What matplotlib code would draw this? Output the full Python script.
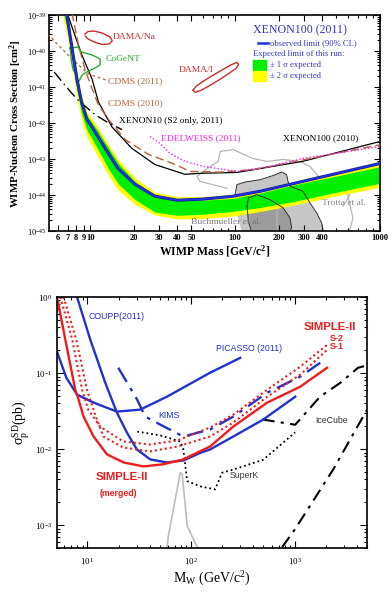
import numpy as np
import matplotlib.pyplot as plt
from matplotlib.patches import Rectangle
from matplotlib.ticker import NullFormatter

plt.rcParams['font.family'] = ['Liberation Serif', 'DejaVu Serif']
plt.rcParams['mathtext.fontset'] = 'custom'
plt.rcParams['mathtext.rm'] = 'Liberation Serif'
plt.rcParams['mathtext.it'] = 'Liberation Serif:italic'
plt.rcParams['mathtext.bf'] = 'Liberation Serif:bold'


# ---------------- top panel: SI WIMP-nucleon limits (log10 of cm^2) ----------------
xe11_mass = [6.5, 6.9, 8.1, 8.7, 9.5, 11.1, 13.5, 15.6, 20.4, 28, 40, 60, 97, 150, 251, 500, 1000]
xe11_log = [-38.6, -39.0, -40.77, -41.40, -41.89, -42.32, -42.87, -43.26, -43.70, -44.03,
            -44.14, -44.11, -44.03, -43.89, -43.68, -43.40, -43.12]
green_hi = [-38.5, -38.9, -40.67, -41.30, -41.79, -42.17, -42.72, -43.11, -43.62, -44.00,
            -44.14, -44.14, -44.09, -43.94, -43.72, -43.47, -43.21]
green_lo = [-38.9, -39.3, -41.07, -41.70, -42.19, -42.67, -43.29, -43.68, -44.12, -44.47,
            -44.56, -44.53, -44.45, -44.34, -44.18, -43.92, -43.67]
yellow_hi = [-38.4, -38.8, -40.57, -41.20, -41.69, -42.07, -42.62, -43.01, -43.52, -43.92,
             -44.04, -44.04, -43.98, -43.84, -43.63, -43.35, -43.07]
yellow_lo = [-39.1, -39.5, -41.27, -41.90, -42.39, -42.87, -43.47, -43.86, -44.25, -44.55,
             -44.66, -44.65, -44.58, -44.45, -44.28, -44.02, -43.78]

xe10_mass = [6.7, 6.9, 8.77, 10.3, 11.4, 14.1, 19.4, 28, 45, 60, 103, 294, 1000]
xe10_log = [-38.7, -38.92, -40.11, -40.77, -41.41, -42.10, -42.70, -43.15, -43.42, -43.39,
            -43.37, -43.06, -42.51]

cdms10_mass = [7.2, 7.48, 8.3, 9.24, 10.3, 11.4, 13.4, 17.5, 25.3, 36.6, 49, 79, 134, 296, 1000]
cdms10_log = [-38.6, -38.92, -39.83, -40.52, -41.04, -41.49, -41.90, -42.46, -42.87, -43.11,
              -43.34, -43.36, -43.29, -43.02, -42.60]

cdms11_mass = [5.1, 6.21, 7.5, 9.7, 13.0]
cdms11_log = [-39.53, -39.885, -40.22, -40.63, -40.81]

xe10s2_mass = [5.65, 6.4, 7.5, 8.5, 10.8, 13.3, 16.6]
xe10s2_log = [-40.58, -40.85, -41.18, -41.41, -41.76, -41.99, -42.18]

edw_mass = [25.9, 30.5, 35.6, 45, 60, 103, 174, 294, 1000]
edw_log = [-42.37, -42.57, -42.84, -43.06, -43.20, -43.34, -43.20, -42.98, -42.65]

# closed contours (mass, sigma)
damana_mass = [9.24, 9.68, 10.66, 12.1, 13.74, 14.19, 13.5, 12.1, 10.66, 9.68, 9.24]
damana_sig = [2.99e-40, 3.50e-40, 3.61e-40, 3.18e-40, 2.47e-40, 1.91e-40, 1.58e-40,
              1.53e-40, 1.79e-40, 2.17e-40, 2.62e-40]

damai_mass = [51.3, 53.8, 60.2, 69.4, 81.4, 93.8, 103.2, 105.7, 101.6, 90.9, 78.8, 67.2, 58.3, 53.0, 51.3]
damai_sig = [8.18e-42, 1.05e-41, 1.45e-41, 2.06e-41, 3.01e-41, 4.15e-41, 4.86e-41, 4.28e-41,
             3.32e-41, 2.42e-41, 1.65e-41, 1.12e-41, 8.18e-42, 7.19e-42, 8.18e-42]

cogent_mass = [7.28, 8.26, 8.67, 10.3, 11.72, 11.72, 10.83, 9.53, 8.81, 8.40, 8.0, 8.13, 7.63, 7.40, 7.28]
cogent_sig = [1.22e-40, 1.30e-40, 9.48e-41, 7.84e-41, 6.08e-41, 4.15e-41, 3.43e-41, 2.66e-41,
              2.19e-41, 1.50e-41, 1.41e-41, 2.19e-41, 3.01e-41, 5.70e-41, 1.22e-40]

buch_out_mass = [100, 103, 117, 149, 184, 210, 227, 232, 240, 294, 329, 366, 396, 406, 431, 114, 108, 100]
buch_out_sig = [1.03e-44, 1.96e-44, 2.31e-44, 2.69e-44, 3.54e-44, 4.37e-44, 3.70e-44, 2.4e-44,
                1.76e-44, 1.28e-44, 6.07e-45, 3.21e-45, 1.70e-45, 1e-45, 5.3e-46, 5.3e-46,
                1.53e-45, 4.42e-45]
buch_in_mass = [121, 123.5, 141, 174, 215, 239, 246, 228, 133, 123.5, 121]
buch_in_sig = [4.92e-45, 8.34e-45, 1.03e-44, 7.53e-45, 4.42e-45, 2.34e-45, 1.24e-45, 7e-46,
               7e-46, 1.89e-45, 4.92e-45]

trotta_out_mass = [88, 57.4, 54.7, 64.1, 76.4, 78.9, 96.9, 133, 166, 214, 281, 329, 386, 592, 651, 600]
trotta_out_sig = [1.55e-44, 2.41e-44, 3.32e-44, 5.52e-44, 8.63e-44, 1.63e-43, 1.85e-43, 1.04e-43,
                  8.63e-44, 9.8e-44, 8.63e-44, 6.28e-44, 2.92e-44, 1.28e-44, 2.29e-45, 7e-46]
trotta_in_mass = [195, 195, 221, 281, 452, 592, 621, 556]
trotta_in_sig = [7e-46, 3.57e-45, 9.29e-45, 1.28e-44, 2.41e-44, 2.13e-44, 1.05e-44, 4.92e-45]

top_xticks = [6, 7, 8, 9, 10, 20, 30, 40, 50, 100, 200, 300, 400, 1000]
top_xlabels = ['6', '7', '8', '9', '10', '20', '30', '40', '50', '100', '200', '300', '400', '1000']
top_xminor = [60, 70, 80, 90, 500, 600, 700, 800, 900]


# ---------------- bottom panel: SD WIMP-proton limits (log10 of pb) ----------------
simple_mass = [5.1, 6.14, 7.65, 8.24, 9.2, 11.5, 15.5, 22.4, 34.9, 54, 84, 153, 256, 544, 1133, 2060]
simple_log = [0, -0.564, -1.219, -1.35, -1.573, -1.835, -2.07, -2.176, -2.228, -2.20, -2.136,
              -1.966, -1.704, -1.389, -1.18, -0.93]

s2_mass = [5.5, 7.16, 8.9, 10.2, 13.3, 22.2, 40.5, 73.8, 153, 256, 545, 1133, 2060]
s2_log = [0, -0.564, -1.219, -1.481, -1.704, -1.90, -1.94, -1.887, -1.717, -1.547, -1.219, -0.917, -0.629]

s1_mass = [5.9, 7.83, 9.93, 11.9, 14.3, 22.2, 40.5, 73.8, 153, 256, 545, 1133, 2060]
s1_log = [0, -0.564, -1.219, -1.547, -1.835, -1.979, -2.031, -1.966, -1.835, -1.651, -1.311, -1.022, -0.695]

coupp_mass = [7.96, 10.7, 14.9, 19.3, 24.1, 30.1, 40.5, 58.7, 84.9, 123, 153, 256, 498, 1014]
coupp_log = [0, -0.564, -1.127, -1.52, -1.783, -2.005, -2.136, -2.176, -2.149, -2.05, -2.005,
             -1.835, -1.612, -1.311]

picasso_mass = [5.1, 6.27, 7.96, 11.5, 19.3, 32.4, 58.7, 153, 299]
picasso_log = [-0.72, -1.06, -1.284, -1.389, -1.507, -1.481, -1.311, -0.996, -0.80]

kims_mass = [19.9, 30.3, 36.2, 50.6, 84.4, 153, 256, 545, 1133, 1766]
kims_log = [-0.93, -1.35, -1.573, -1.678, -1.835, -1.743, -1.573, -1.258, -1.048, -0.865]

superk_mass = [30.3, 50.6, 78.9, 84.4, 92, 123, 171, 200, 256, 498, 1014]
superk_log = [-1.77, -1.82, -1.90, -2.0, -2.42, -2.49, -2.53, -2.31, -2.27, -2.14, -1.78]

icecube_mass = [487, 1014, 1766, 2755, 4105, 5010]
icecube_log = [-1.61, -1.68, -1.31, -1.13, -0.93, -0.90]

icecube2_mass = [759, 1014, 2356, 5010]
icecube2_log = [-3.29, -3.05, -2.27, -1.48]

gray_mass = [59, 60.4, 78.9, 82.4, 92, 115]
gray_log = [-3.29, -3.15, -2.31, -2.33, -3.01, -3.29]


def lg(v):
    return 10 ** np.array(v)


fig = plt.figure(figsize=(3.91, 5.92), dpi=100)

# ================= top panel =================
ax = fig.add_axes([0.1253, 0.6095, 0.8465, 0.3650])
ax.set_xscale('log')
ax.set_yscale('log')

ax.fill(buch_out_mass, buch_out_sig, color='#c6c6c6', lw=0, zorder=1)
ax.fill(buch_in_mass, buch_in_sig, color='#9c9c9c', lw=0, zorder=1)
ax.plot(trotta_out_mass, trotta_out_sig, color='#b5b5b5', lw=0.9, zorder=1)
ax.plot(trotta_in_mass, trotta_in_sig, color='#b5b5b5', lw=0.9, zorder=1)

ax.fill_between(xe11_mass, lg(yellow_lo), lg(yellow_hi), color='#ffff00', lw=0, zorder=2)
ax.fill_between(xe11_mass, lg(green_lo), lg(green_hi), color='#00ee00', lw=0, zorder=2)

ax.plot(buch_out_mass[:-3], buch_out_sig[:-3], color='#333333', lw=0.7, zorder=3)
ax.plot(buch_in_mass, buch_in_sig, color='#333333', lw=0.7, zorder=3)

ax.plot(xe10_mass, lg(xe10_log), color='black', lw=0.9, zorder=4)
ax.plot(cdms10_mass, lg(cdms10_log), color='#b5633a', lw=1.0, dashes=(6, 3), zorder=4)
ax.plot(cdms11_mass, lg(cdms11_log), color='#c0703a', lw=1.0, dashes=(2, 2), zorder=4)
ax.plot(xe10s2_mass, lg(xe10s2_log), color='black', lw=1.0, dashes=(8, 3, 1, 3), zorder=4)
ax.plot(edw_mass, lg(edw_log), color='#ee22ee', lw=1.0, dashes=(1, 1.5), zorder=4)
ax.plot(xe11_mass, lg(xe11_log), color='#101c9a', lw=2.2, zorder=5)
ax.plot(xe11_mass, lg(xe11_log), color='#1f30e0', lw=1.3, zorder=5)

ax.plot(damana_mass, damana_sig, color='#cc2a2a', lw=1.0, zorder=4)
ax.plot(damai_mass, damai_sig, color='#cc2a2a', lw=1.0, zorder=4)
ax.plot(cogent_mass, cogent_sig, color='#2aaa2a', lw=1.0, zorder=4)

ax.set_xlim(5.2, 1000)
ax.set_ylim(1e-45, 1e-39)
ax.set_xticks(top_xticks)
ax.set_xticklabels(top_xlabels, fontweight='bold')
ax.set_xticks(top_xminor, minor=True)
ax.xaxis.set_minor_formatter(NullFormatter())
ax.tick_params(which='both', direction='in', top=True, right=True, labelsize=6.0, width=0.8)
ax.tick_params(which='major', length=4)
ax.tick_params(which='minor', length=2.5)
ax.tick_params(axis='x', pad=2)
ax.tick_params(axis='y', pad=2)
for s in ax.spines.values():
    s.set_linewidth(1.2)
ax.set_xlabel('WIMP Mass [GeV/c$^{\\mathbf{2}}$]', fontsize=8.5, fontweight='bold', labelpad=1)
ax.set_ylabel('WIMP-Nucleon Cross Section [cm$^{\\mathbf{2}}$]', fontsize=7.8, fontweight='bold', labelpad=2)

lab = dict(transform=ax.transAxes, fontsize=6.8, va='center', ha='left', zorder=6)
ax.text(0.193, 0.899, 'DAMA/Na', color='#cc2a2a', **lab)
ax.text(0.172, 0.797, 'CoGeNT', color='#2aaa2a', **lab)
ax.text(0.178, 0.696, 'CDMS (2011)', color='#b5633a', **lab)
ax.text(0.393, 0.747, 'DAMA/I', color='#cc2a2a', **lab)
ax.text(0.178, 0.594, 'CDMS (2010)', color='#b5633a', **lab)
ax.text(0.211, 0.512, 'XENON10 (S2 only, 2011)', color='black', **lab)
ax.text(0.338, 0.429, 'EDELWEISS (2011)', color='#ee22ee', **lab)
ax.text(0.707, 0.429, 'XENON100 (2010)', color='black', **lab)
ax.text(0.825, 0.129, 'Trotta et al.', color='#888888', **lab)
ax.text(0.429, 0.041, 'Buchmueller et al.', color='#777777', **lab)

# legend block
leg_c = '#3535c8'
ax.text(0.616, 0.931, 'XENON100 (2011)', color=leg_c, fontsize=8.6, transform=ax.transAxes,
        va='center', ha='left', zorder=6)
ax.plot([0.631, 0.662], [0.871, 0.871], color='#1f30e0', lw=1.8, transform=ax.transAxes, zorder=6)
ax.text(0.668, 0.871, 'observed limit (90% CL)', color=leg_c, fontsize=6.2, transform=ax.transAxes,
        va='center', ha='left', zorder=6)
ax.text(0.616, 0.820, 'Expected limit of this run:', color=leg_c, fontsize=6.2, transform=ax.transAxes,
        va='center', ha='left', zorder=6)
ax.add_patch(Rectangle((0.616, 0.7465), 0.039, 0.046, transform=ax.transAxes, color='#00ee00', zorder=6))
ax.add_patch(Rectangle((0.616, 0.696), 0.039, 0.046, transform=ax.transAxes, color='#ffff00', zorder=6))
ax.text(0.668, 0.7696, '± 1 σ expected', color=leg_c, fontsize=6.2, transform=ax.transAxes,
        va='center', ha='left', zorder=6)
ax.text(0.668, 0.719, '± 2 σ expected', color=leg_c, fontsize=6.2, transform=ax.transAxes,
        va='center', ha='left', zorder=6)


# ================= bottom panel =================
bx = fig.add_axes([0.1458, 0.0743, 0.7928, 0.424])
bx.set_xscale('log')
bx.set_yscale('log')

red = '#ee1c1c'
blue = '#2233cc'
bx.plot(gray_mass, lg(gray_log), color='#bdbdbd', lw=1.2)
bx.plot(superk_mass, lg(superk_log), color='black', lw=1.3, dashes=(1, 1.6))
bx.plot(icecube_mass, lg(icecube_log), color='black', lw=1.5, dashes=(6, 3, 1.5, 3))
bx.plot(icecube2_mass, lg(icecube2_log), color='black', lw=1.5, dashes=(6, 3, 1.5, 3))
bx.plot(picasso_mass, lg(picasso_log), color=blue, lw=1.7)
bx.plot(coupp_mass, lg(coupp_log), color=blue, lw=1.7)
bx.plot(kims_mass, lg(kims_log), color=blue, lw=1.7, dashes=(7, 3, 1.5, 3))
bx.plot(s2_mass, lg(s2_log), color=red, lw=1.5, dashes=(1, 1.4))
bx.plot(s1_mass, lg(s1_log), color=red, lw=1.5, dashes=(1, 1.4))
bx.plot(simple_mass, lg(simple_log), color=red, lw=1.7)

bx.set_xlim(5.1, 5000)
bx.set_ylim(5e-4, 1)
bx.tick_params(which='both', direction='in', top=True, right=True, labelsize=6.5, width=0.8)
bx.tick_params(which='major', length=5)
bx.tick_params(which='minor', length=2.5)
bx.tick_params(axis='x', pad=6)
for s in bx.spines.values():
    s.set_linewidth(1.2)
bx.set_xlabel('M$_\\mathrm{W}$ (GeV/c$^\\mathrm{2}$)', fontsize=10, labelpad=2)
bx.set_ylabel('σ$_\\mathrm{p}^\\mathrm{SD}$(pb)', fontsize=10, labelpad=2)

sl = dict(transform=bx.transAxes, va='center', ha='left', family=['Liberation Sans', 'DejaVu Sans'])
bx.text(0.100, 0.924, 'COUPP(2011)', color=blue, fontsize=6.3, **sl)
bx.text(0.513, 0.793, 'PICASSO (2011)', color=blue, fontsize=6.3, **sl)
bx.text(0.794, 0.880, 'SIMPLE-II', color=red, fontsize=8.2, fontweight='bold', **sl)
bx.text(0.881, 0.833, 'S-2', color=red, fontsize=6.5, fontweight='bold', **sl)
bx.text(0.881, 0.801, 'S-1', color=red, fontsize=6.5, fontweight='bold', **sl)
bx.text(0.326, 0.526, 'KIMS', color=blue, fontsize=6.3, **sl)
bx.text(0.832, 0.510, 'IceCube', color='#333333', fontsize=6.3, **sl)
bx.text(0.558, 0.287, 'SuperK', color='#333333', fontsize=6.3, **sl)
bx.text(0.123, 0.283, 'SIMPLE-II', color=red, fontsize=8.2, fontweight='bold', **sl)
bx.text(0.139, 0.219, '(merged)', color=red, fontsize=6.3, fontweight='bold', **sl)

fig.savefig('out.png', dpi=100)
